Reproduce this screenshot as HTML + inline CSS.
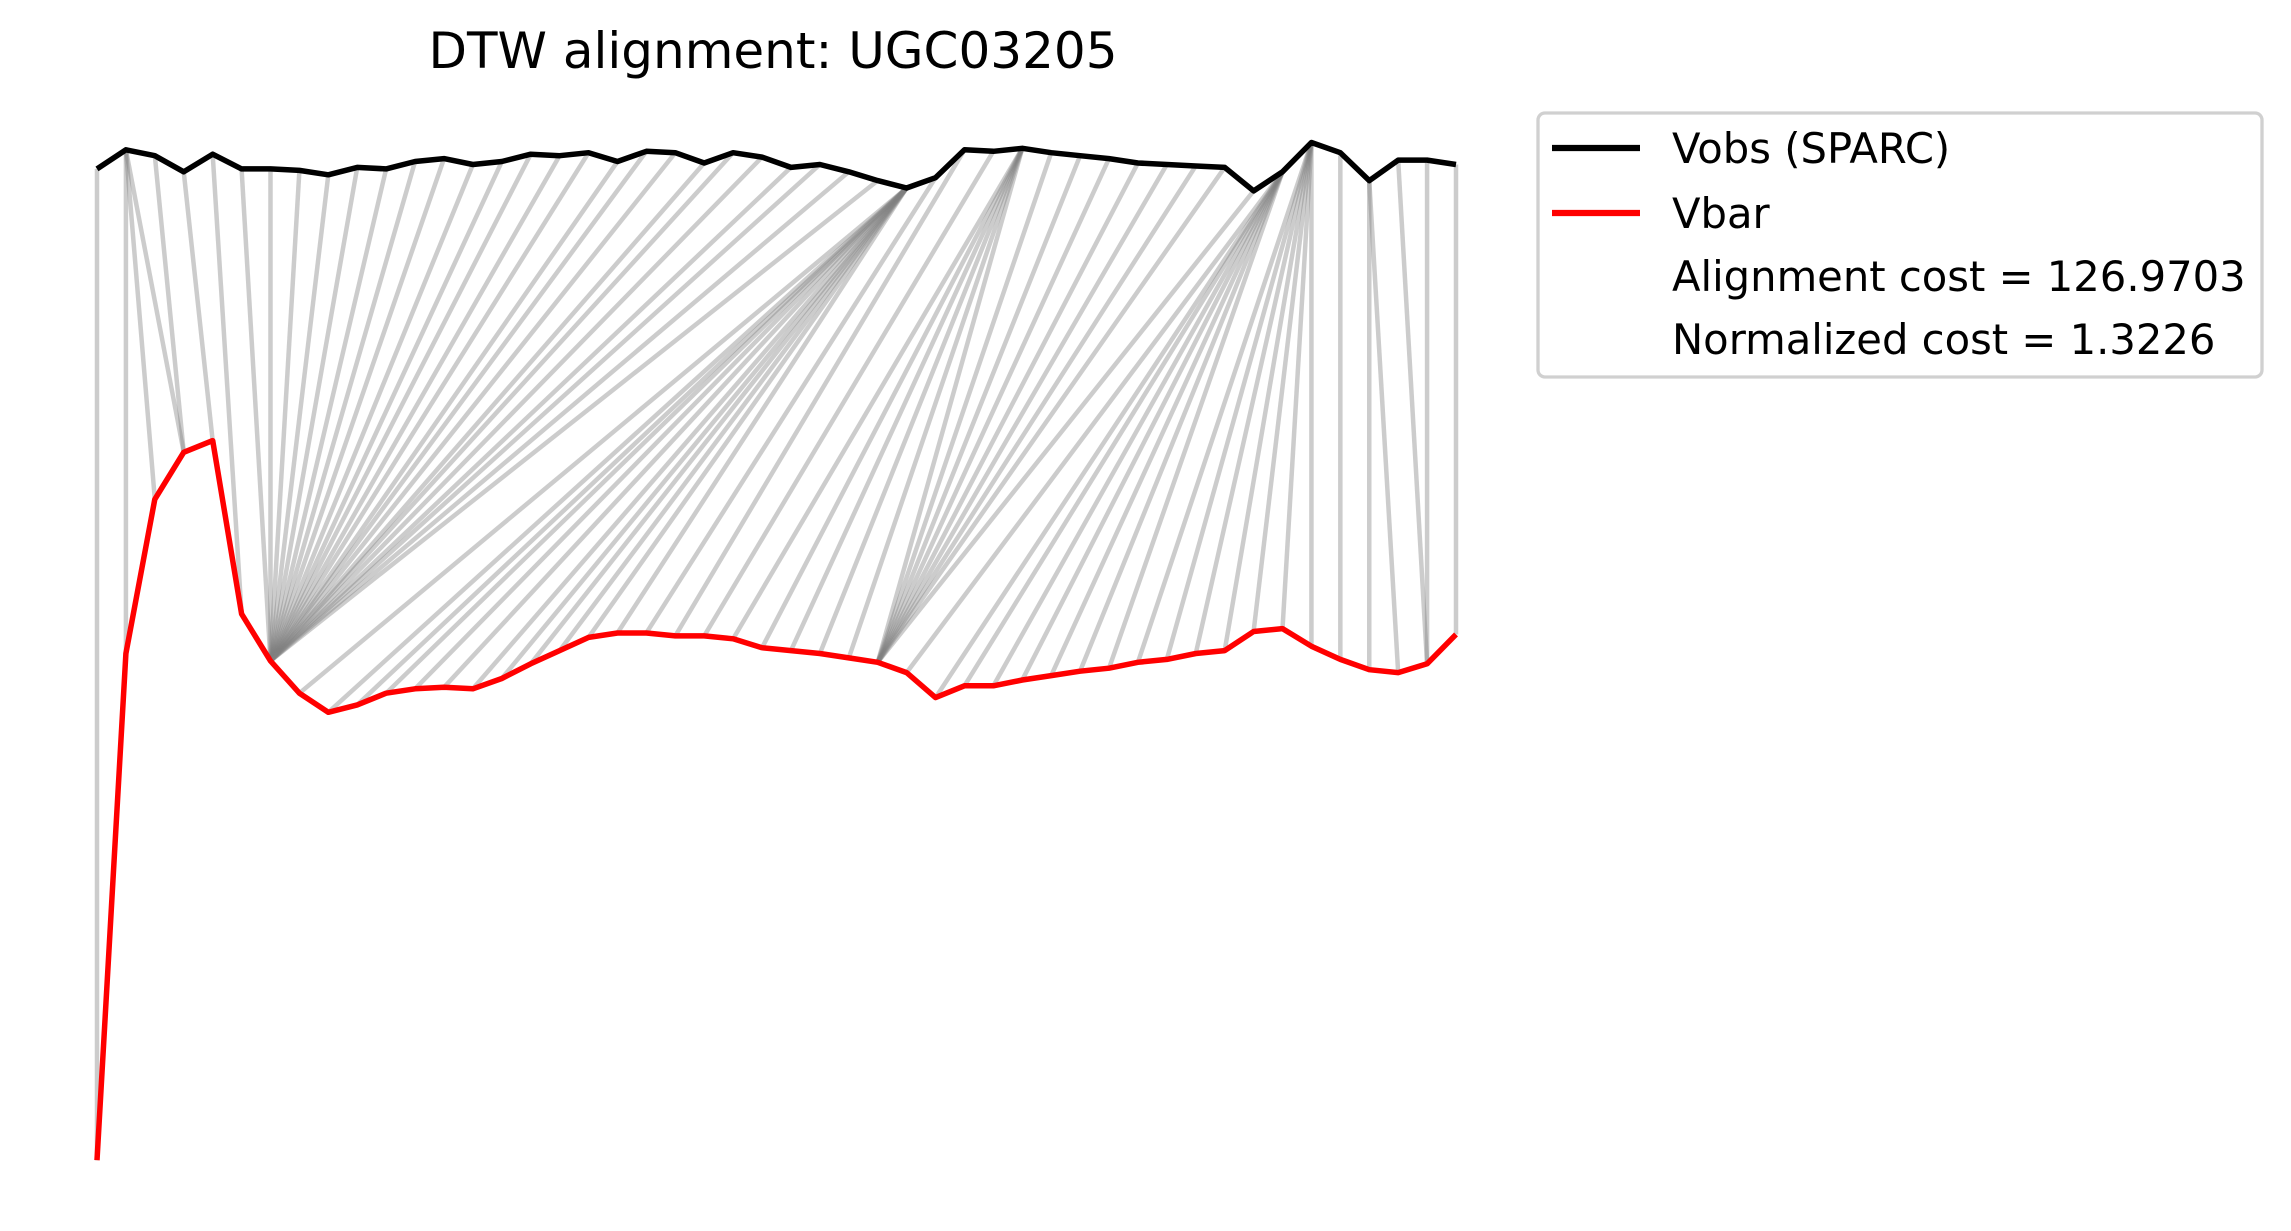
<!DOCTYPE html>
<html><head><meta charset="utf-8"><style>
html,body{margin:0;padding:0;background:#fff;}
svg{display:block;font-family:"DejaVu Sans","Liberation Sans",sans-serif;}
</style></head><body>
<svg id="chart" width="2291" height="1231" viewBox="0 0 2291 1231" xmlns="http://www.w3.org/2000/svg">
<rect width="2291" height="1231" fill="#fff"/>
<text x="773" y="68" font-size="50" text-anchor="middle">DTW alignment: UGC03205</text>
<g id="links"></g>
<g id="series"></g>
<g transform="translate(-9,0)">
<rect x="1547" y="113" width="724" height="264" rx="7" fill="#fff" fill-opacity="0.8" stroke="#d0d0d0" stroke-width="3.3"/>
<line x1="1561" y1="148" x2="1649" y2="148" stroke="#000" stroke-width="6.25"/>
<text x="1681" y="163" font-size="41.7">Vobs (SPARC)</text>
<line x1="1561" y1="213" x2="1649" y2="213" stroke="#ff0000" stroke-width="6.25"/>
<text x="1681" y="228" font-size="41.7">Vbar</text>
<text x="1681" y="291" font-size="41.7">Alignment cost = 126.9703</text>
<text x="1681" y="354" font-size="41.7">Normalized cost = 1.3226</text>
</g>
</svg>
<script>
const vobs = [685,698,694,683,695,685,685,684,681,686,685,690,692,688,690,695,694,696,690,697,696,689,696,693,686,688,683,677,672,679,698,697,699,696,694,692,689,688,687,686,670,683,703,696,677,691,691,688];
const vbar = [10,355,460,492,500,382,350,328,315,320,328,331,332,331,338,348,357,366,369,369,367,367,365,359,357,355,352,349,342,325,333,333,337,340,343,345,349,351,355,357,370,372,360,351,344,342,348,368];
const pathObs = [0,1,1,1,2,3,4,5,6,7,8,9,10,11,12,13,14,15,16,17,18,19,20,21,22,23,24,25,26,27,28,28,28,28,28,28,28,28,28,28,28,28,29,30,31,32,32,32,32,32,32,33,34,35,36,37,38,39,40,41,41,41,41,41,41,41,41,42,42,42,42,42,42,42,43,44,44,45,46,47];
const pathBar = [0,1,2,3,3,4,5,6,6,6,6,6,6,6,6,6,6,6,6,6,6,6,6,6,6,6,6,6,6,6,7,8,9,10,11,12,13,14,15,16,17,18,19,20,21,22,23,24,25,26,27,27,27,27,27,27,27,27,27,28,29,30,31,32,33,34,35,36,37,38,39,40,41,42,43,44,45,46,46,47];
const NS='http://www.w3.org/2000/svg';
const xScale = i => 97 + i * (1456 - 97) / (vobs.length - 1);
const yScale = v => (800 - v) * 1.4686;
const links = document.getElementById('links');
for (let k = 0; k < pathObs.length; k++) {
  const i = pathObs[k], j = pathBar[k];
  const l = document.createElementNS(NS,'line');
  
  
  l.setAttribute('x1', xScale(i)); l.setAttribute('y1', yScale(vobs[i]));
  l.setAttribute('x2', xScale(j)); l.setAttribute('y2', yScale(vbar[j]));
  l.setAttribute('stroke', '#808080'); l.setAttribute('stroke-opacity', '0.4');
  l.setAttribute('stroke-width', '4.5');
  links.appendChild(l);
}
const series = document.getElementById('series');
function drawLine(arr, color, name) {
  const p = document.createElementNS(NS,'polyline');
  
  
  p.setAttribute('points', arr.map((v,i)=>xScale(i).toFixed(1)+','+yScale(v).toFixed(1)).join(' '));
  p.setAttribute('fill','none'); p.setAttribute('stroke',color);
  p.setAttribute('stroke-width','5.5'); p.setAttribute('stroke-linejoin','round');
  series.appendChild(p);
}
drawLine(vobs, '#000', 'vobs-line');
drawLine(vbar, '#ff0000', 'vbar-line');
</script>
</body></html>
